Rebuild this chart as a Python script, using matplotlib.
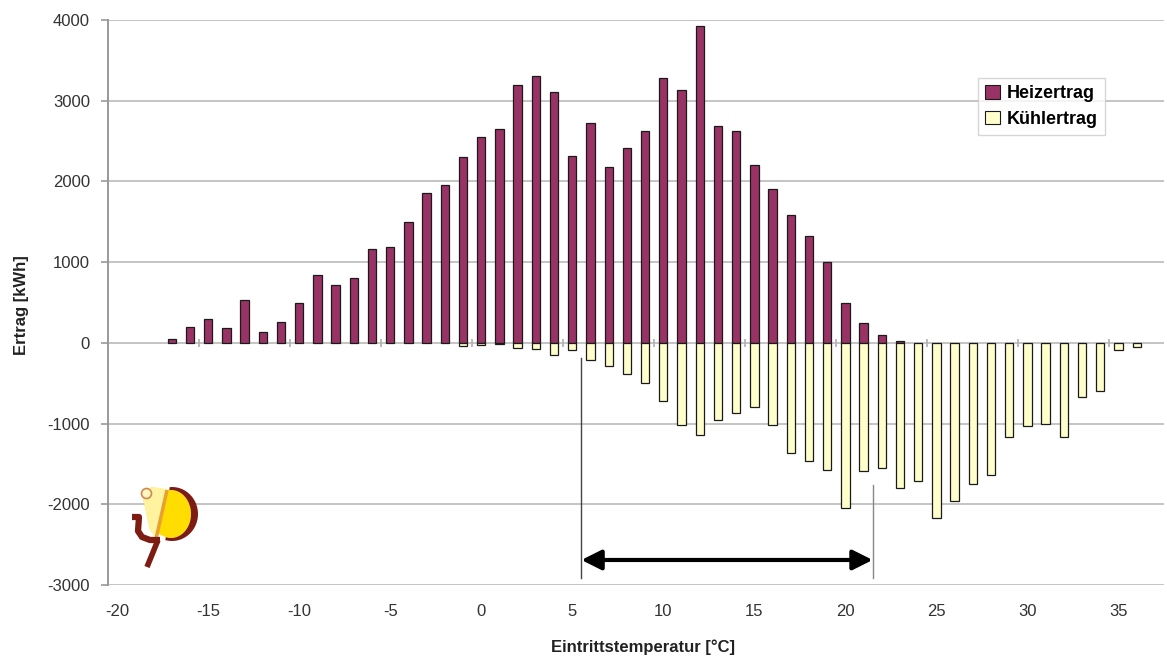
import matplotlib
matplotlib.use("Agg")
import matplotlib.pyplot as plt
from matplotlib.patches import Patch, Polygon, Circle
import numpy as np

plt.rcParams['font.family'] = ['Liberation Sans', 'DejaVu Sans']
plt.rcParams['axes.unicode_minus'] = False

# Entry temperature classes [°C]
temps = list(range(-17, 37))

# Heating yield per temperature class [kWh]
heizertrag = [50, 200, 300, 190, 530, 135, 260, 495, 840, 715, 805, 1160, 1190,
              1500, 1860, 1950, 2300,
              2550, 2650, 3200, 3310, 3110, 2310, 2730, 2180, 2410, 2620, 3280,
              3130, 3920, 2690, 2630, 2200, 1900, 1580, 1330, 1000, 500, 240,
              100, 20,
              0, 0, 0, 0, 0, 0, 0, 0, 0, 0, 0, 0, 0]

# Cooling yield per temperature class [kWh]
kuehlertrag = [0] * 16 + [-45, -25, -15, -60, -80, -150, -90, -210, -290, -390,
                          -495, -720, -1020, -1145, -960, -875, -800, -1020,
                          -1360, -1465, -1570, -2050, -1585, -1555, -1795,
                          -1715, -2165, -1960, -1750, -1640, -1170, -1025,
                          -1000, -1170, -670, -600, -90, -50]

# Axis tick values
x_ticks = [-20, -15, -10, -5, 0, 5, 10, 15, 20, 25, 30, 35]
y_ticks = [-3000, -2000, -1000, 0, 1000, 2000, 3000, 4000]

# Temperature range marked by the double arrow
band_lo, band_hi = 5.5, 21.5

W, H = 1167, 657
fig = plt.figure(figsize=(W / 100, H / 100), dpi=100)
ax = fig.add_axes([108 / W, 1 - 585 / H, (1164 - 108) / W, (585 - 20) / H])

grid_c = '#c4c4c4'
for y in y_ticks:
    ax.axhline(y, color=grid_c, lw=1.4, zorder=0)

t = np.array(temps)
h = np.array(heizertrag)
k = np.array(kuehlertrag)
bw = 0.46
mh = h != 0
mk = k != 0
ax.bar(t[mh], h[mh], width=bw, color='#993366', edgecolor='#1a1a1a', lw=0.9, zorder=3)
ax.bar(t[mk], k[mk], width=bw, color='#ffffcc', edgecolor='#1a1a1a', lw=0.9, zorder=3)

# category separators every 5 classes on the zero line
sep = np.arange(-15.5, 36, 5)
ax.vlines(sep, -50, 50, color='#b0b0b0', lw=1.2, zorder=2)

ax.set_xlim(-20.5, 37.5)
ax.set_ylim(-3000, 4000)
ax.set_xticks(x_ticks)
ax.set_yticks(y_ticks)
ax.tick_params(axis='x', length=0, pad=14, labelsize=12, colors='#333333')
ax.tick_params(axis='y', length=5, width=1.2, color='#999999', pad=8,
               labelsize=12, labelcolor='#333333')
for s in ['top', 'right', 'bottom']:
    ax.spines[s].set_visible(False)
ax.spines['left'].set_color('#999999')
ax.spines['left'].set_linewidth(1.4)

# Range marker
ax.plot([band_lo, band_lo], [-190, -2915], color='#444444', lw=1.0, zorder=4)
ax.plot([band_hi, band_hi], [-1765, -2915], color='#888888', lw=1.0, zorder=4)
ax.annotate('', xy=(band_hi, -2690), xytext=(band_lo, -2690),
            arrowprops=dict(arrowstyle='<|-|>', lw=3, color='black',
                            mutation_scale=30, shrinkA=0, shrinkB=0), zorder=5)

fig.text(22 / W, 1 - 305 / H, 'Ertrag [kWh]', rotation=90, ha='center',
         va='center', fontsize=12, fontweight='bold', color='#222222')
fig.text(643 / W, 1 - 639 / H, 'Eintrittstemperatur [°C]', ha='center',
         va='top', fontsize=12, fontweight='bold', color='#222222')

handles = [Patch(facecolor='#993366', edgecolor='#1a1a1a', lw=0.8),
           Patch(facecolor='#ffffcc', edgecolor='#1a1a1a', lw=0.8)]
leg = fig.legend(handles, ['Heizertrag', 'Kühlertrag'], loc='upper left',
                 bbox_to_anchor=(978 / W, 1 - 78 / H),
                 prop={'weight': 'bold', 'size': 13}, frameon=True,
                 fancybox=False, handlelength=0.8, handleheight=0.8,
                 handletextpad=0.4, borderpad=0.4, labelspacing=0.45,
                 borderaxespad=0)
leg.get_frame().set_edgecolor('#cccccc')
leg.get_frame().set_linewidth(1.0)

# Logo in the lower left corner, drawn in pixel coordinates
lg = fig.add_axes([0, 0, 1, 1], facecolor='none')
lg.set_xlim(0, W)
lg.set_ylim(H, 0)
lg.axis('off')
dark = '#7d1c12'
th = np.radians(np.linspace(95, -105, 40))
outer = np.column_stack([172 + 26 * np.cos(th), 514 - 27 * np.sin(th)])
inner = np.column_stack([171 + 20 * np.cos(th), 514 - 24 * np.sin(th)])

fan = np.vstack([[(143, 498), (151, 487)], inner, [(150, 530)]])
lg.add_patch(Polygon(fan, closed=True, facecolor='#ffdd00', edgecolor='none'))
lg.add_patch(Polygon([(143, 498), (151, 487), (167, 489), (156, 539),
                      (150, 530)], closed=True, facecolor='#fff3a0',
                     edgecolor='none'))
lg.plot([167, 156], [490, 539], color='#e8a030', lw=2.5, solid_capstyle='butt')
lg.add_patch(Polygon(np.vstack([outer, inner[::-1]]), closed=True,
                     facecolor=dark, edgecolor='none'))
lg.plot([132, 139, 138, 142, 150, 160], [517, 517, 531, 537, 540, 540],
        color=dark, lw=4.5, solid_joinstyle='round', solid_capstyle='butt')
lg.plot([158, 147], [540, 567], color=dark, lw=4, solid_capstyle='butt')
lg.add_patch(Circle((146.5, 493.5), 5, facecolor='#fff6c0',
                    edgecolor='#d08850', lw=1.2))

fig.savefig('out.png', dpi=100)
